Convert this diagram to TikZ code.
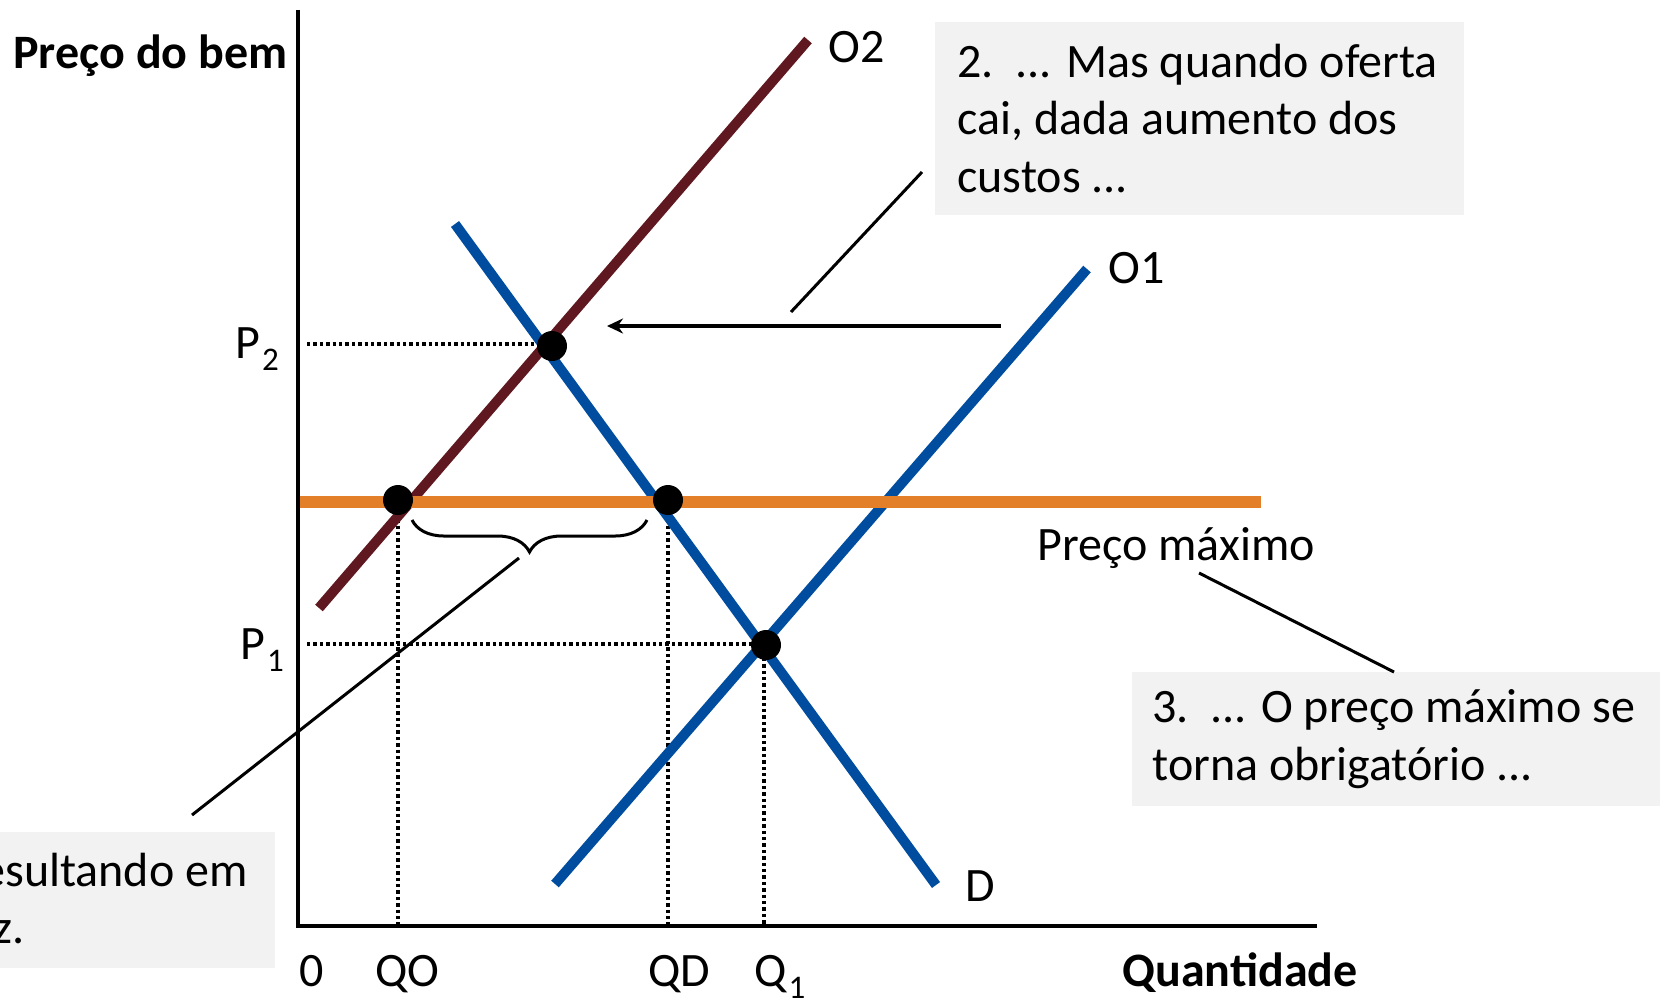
\documentclass[tikz,border=0pt]{standalone}
\usepackage{fontspec}
\setmainfont{Carlito}
\usepackage{tikz}
\usetikzlibrary{arrows.meta,decorations.pathreplacing}

\definecolor{supplytwo}{RGB}{96,24,32}
\definecolor{curveblue}{RGB}{0,77,160}
\definecolor{ceilorange}{RGB}{226,127,40}
\definecolor{notegrey}{RGB}{242,242,242}

\newcommand{\lowsub}[1]{\kern1pt\raisebox{-6pt}{\fontsize{16.5}{16.5}\selectfont #1}}

\tikzset{
  curve/.style={line width=5pt},
  supply/.style={curve, draw=supplytwo},
  market/.style={curve, draw=curveblue},
  ceiling/.style={line width=6.25pt, draw=ceilorange},
  axisline/.style={line width=2pt},
  guide/.style={line width=2pt, dash pattern=on 1.7pt off 1.5pt},
  dot/.style={circle, fill=black, inner sep=0pt, minimum size=15pt},
  lbl/.style={inner sep=0pt, anchor=base west},
  callout/.style={line width=1.5pt},
  notebox/.style={fill=notegrey, draw=none},
}

\begin{document}
\begin{tikzpicture}[x=0.5pt, y=-0.5pt, font=\fontsize{24}{28.75}\selectfont]

  \useasboundingbox (0,0) rectangle (1668,997);
  \clip (0,0) rectangle (1668,997);

  % Text boxes
  \fill[notebox] (935,22) rectangle (1464,215);
  \fill[notebox] (1132,672) rectangle (1660,806);
  \fill[notebox] (0,832) rectangle (275,968);

  % Define points
  \coordinate (orig) at (298,926);
  \coordinate (ytop) at (298,10);
  \coordinate (xend) at (1317,926);
  \coordinate (o2a) at (319,608);
  \coordinate (o2b) at (808,40);
  \coordinate (da) at (455,224);
  \coordinate (db) at (936,885);
  \coordinate (o1a) at (555,884);
  \coordinate (o1b) at (1087,269);
  \coordinate (pma) at (298,502);
  \coordinate (pmb) at (1261,502);
  \coordinate (p2) at (307,344);
  \coordinate (p1) at (307,644);

  % Guides
  \draw[guide] (p2) -- (552,344);
  \draw[guide] (p1) -- (766,644);
  \draw[guide] (398,500) -- (398,926);
  \draw[guide] (668,500) -- (668,926);
  \draw[guide] (764,645) -- (764,926);

  % Curves
  \draw[supply] (o2a) -- (o2b);
  \draw[market] (da) -- (db);
  \draw[market] (o1a) -- (o1b);
  \draw[ceiling] (pma) -- (pmb);

  % Axes
  \draw[axisline] (ytop) -- (orig) -- (xend);

  % Define nodes
  \node[dot] (eq2) at (552,346) {};
  \node[dot] (eqo) at (398,500) {};
  \node[dot] (eqd) at (668,500) {};
  \node[dot] (eq1) at (766,645) {};

  \node[lbl, font=\fontsize{24}{28.75}\selectfont\bfseries] (yname) at (13,68) {Preço do bem};
  \node[lbl, font=\fontsize{24}{28.75}\selectfont\bfseries] (xname) at (1122,986) {Quantidade};
  \node[lbl] (lo2) at (828,62) {O2};
  \node[lbl] (lo1) at (1108,283) {O1};
  \node[lbl] (ld) at (965,901) {D};
  \node[lbl] (lp2) at (235,358) {P\lowsub{2}};
  \node[lbl] (lp1) at (240,659) {P\lowsub{1}};
  \node[lbl] (lzero) at (299,986) {0};
  \node[lbl] (lqo) at (375,986) {QO};
  \node[lbl] (lqd) at (648,986) {QD};
  \node[lbl] (lq1) at (754,986) {Q\lowsub{1}};
  \node[lbl] (lpmax) at (1037,560) {Preço máximo};

  \node[lbl, align=left] (note2) at (957,192) {2.~~... Mas quando oferta\\cai, dada aumento dos\\custos ...};
  \node[lbl, align=left] (note3) at (1152,780) {3.~~... O preço máximo se\\torna obrigatório ...};
  \node[inner sep=0pt, anchor=base east] (note4a) at (248,886) {esultando em};
  \node[inner sep=0pt, anchor=base east] (note4b) at (25,943) {z.};

  % Connect the nodes
  \coordinate (brr) at (647,520);
  \coordinate (brl) at (412,520);
  \draw[callout, decorate, decoration={brace, amplitude=16pt}] (brr) -- (brl);
  \coordinate (c4a) at (519,558);
  \coordinate (c4b) at (192,815);
  \draw[callout] (c4a) -- (c4b);
  \coordinate (c2a) at (922,172);
  \coordinate (c2b) at (791,312);
  \draw[callout] (c2a) -- (c2b);
  \coordinate (arrtail) at (1001,326);
  \coordinate (arrtip) at (607,326);
  \draw[line width=2pt, -{Stealth[length=8pt, width=7.5pt]}] (arrtail) -- (arrtip);
  \coordinate (c3a) at (1199,573);
  \coordinate (c3b) at (1394,672);
  \draw[callout] (c3a) -- (c3b);

\end{tikzpicture}
\end{document}
